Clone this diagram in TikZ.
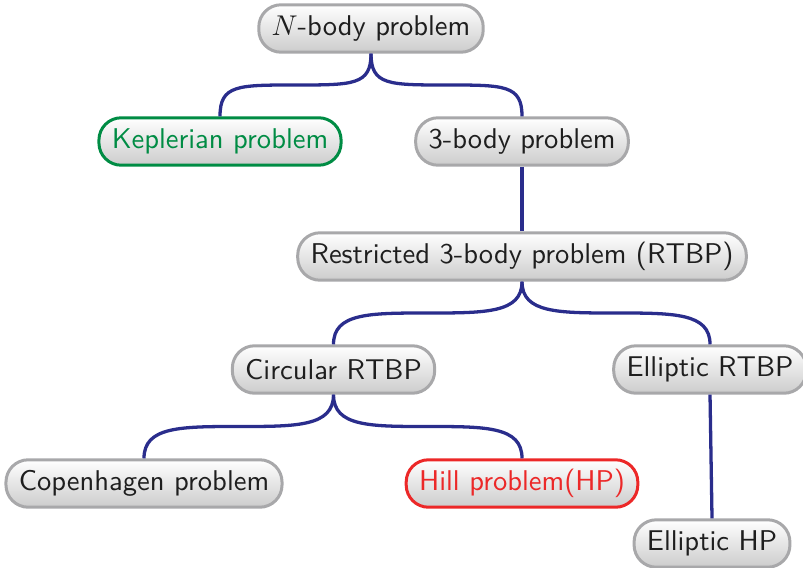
\documentclass[tikz,border=0pt]{standalone}
\usetikzlibrary{calc}
\definecolor{linkc}{RGB}{42,45,140}
\definecolor{boxgray}{RGB}{168,168,170}
\definecolor{kgreen}{RGB}{0,140,68}
\definecolor{hred}{RGB}{236,40,40}
\definecolor{txt}{RGB}{30,30,30}
\tikzset{
  pbox/.style={draw=boxgray, line width=1.05pt, rounded corners=7.8pt, top color=white, bottom color=black!20,
    text=txt, font=\sffamily, inner xsep=4.5pt, inner ysep=0pt, minimum height=16.6pt},
  kbox/.style={pbox, draw=kgreen, text=kgreen},
  hbox/.style={pbox, draw=hred, text=hred},
  link/.style={draw=linkc, line width=1.15pt}
}
\newcommand\branchlink[3]{%
  \coordinate (m-#1-#2) at ($(#1.south)!0.5!(#2.north)$);
  \draw[link] (#1.south) .. controls (#1.south |- m-#1-#2) and ($(m-#1-#2)+(#3,0)$) .. (m-#1-#2)
    .. controls ($(m-#1-#2)-(#3,0)$) and (#2.north |- m-#1-#2) .. (#2.north);}
\begin{document}
\begin{tikzpicture}[x=0.35pt,y=-0.35pt]
\useasboundingbox (0,0) rectangle (803,567);
\node[pbox] (nb) at (371,28.5) {$N$-body problem};
\node[kbox] (kep) at (220,141.5) {Keplerian problem};
\node[pbox] (tb) at (522,141.5) {3-body problem};
\node[pbox] (rtbp) at (522,256.5) {Restricted 3-body problem (RTBP)};
\node[pbox] (crtbp) at (333.5,369.5) {Circular RTBP};
\node[pbox] (ertbp) at (710,369.5) {Elliptic RTBP};
\node[pbox] (cop) at (144,483.5) {Copenhagen problem};
\node[hbox] (hill) at (522,483.5) {Hill problem(HP)};
\node[pbox] (ehp) at (712,543.5) {Elliptic HP};
\branchlink{nb}{kep}{58}
\branchlink{nb}{tb}{-58}
\draw[link] (tb.south) -- (rtbp.north);
\branchlink{rtbp}{crtbp}{58}
\branchlink{rtbp}{ertbp}{-58}
\branchlink{crtbp}{cop}{58}
\branchlink{crtbp}{hill}{-58}
\draw[link] (ertbp.south) -- (ehp.north);
\end{tikzpicture}
\end{document}
